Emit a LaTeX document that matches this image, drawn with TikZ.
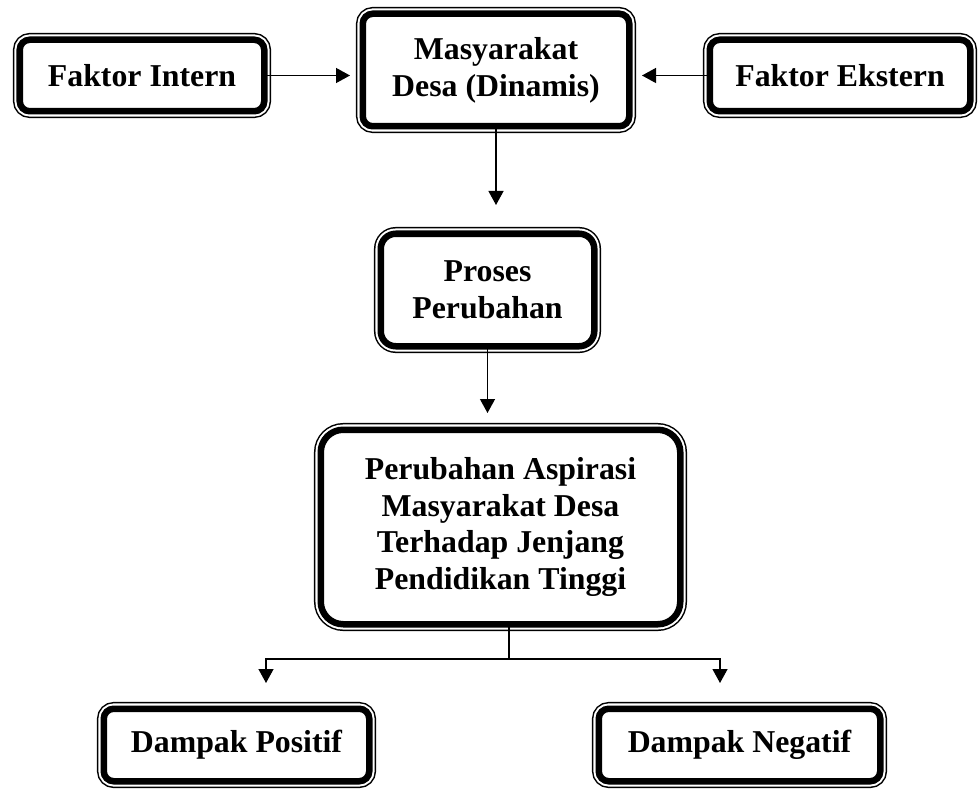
\documentclass[tikz,border=0pt]{standalone}
\usepackage{fontspec}
\setmainfont{Liberation Serif}
\usetikzlibrary{positioning,arrows.meta,calc}

\tikzset{
  box/.style={draw, line width=3.7pt, fill=white, rounded corners=#1,
    inner sep=0pt, outer sep=0pt, align=center,
    font=\fontsize{18.1}{21}\selectfont\bfseries,
    preaction={draw, line width=7.7pt},
    preaction={draw=white, line width=6pt}},
  box/.default=0.2cm,
  arr/.style={line width=0.75pt, -{Triangle[length=0.28cm,width=0.3cm]}},
}

\begin{document}
\begin{tikzpicture}

\useasboundingbox (0,0) rectangle (19.58,15.78);

% Top row: the two factors and the village community
\node[box, minimum width=4.89cm, minimum height=1.43cm] (Intern) at (2.84,14.27) {Faktor Intern};
\node[box, minimum width=5.33cm, minimum height=2.25cm] (Desa) at (9.92,14.38) {Masyarakat\\Desa (Dinamis)};
\node[box, minimum width=5.21cm, minimum height=1.43cm] (Ekstern) at (16.80,14.27) {Faktor Ekstern};

% Process of change
\node[box=0.3cm, minimum width=4.27cm, minimum height=2.25cm] (Proses) at (9.75,9.98) {Proses\\Perubahan};

% Change of aspiration
\node[box=0.45cm, minimum width=7.19cm, minimum height=3.89cm] (Aspirasi) at (10.01,5.24)
  {Perubahan Aspirasi\\Masyarakat Desa\\Terhadap Jenjang\\Pendidikan Tinggi};

% Impacts
\node[box, minimum width=5.31cm, minimum height=1.45cm] (Positif) at (4.73,0.88) {Dampak Positif};
\node[box, minimum width=5.63cm, minimum height=1.45cm] (Negatif) at (14.79,0.88) {Dampak Negatif};

% Arrows into the community
\draw[arr, shorten >=0.255cm] (Intern.east) -- (Intern.east -| Desa.west);
\draw[arr, shorten >=0.255cm] (Ekstern.west) -- (Ekstern.west -| Desa.east);

% Arrows down the middle
\draw[arr, shorten >=0.575cm] (Desa.south) -- (Desa.south |- Proses.north);
\draw[arr, shorten >=0.335cm] (Proses.south) -- (Proses.south |- Aspirasi.north);

% Split to the two impacts
\draw[line width=0.75pt] ([xshift=0.17cm]Aspirasi.south) -- ++(0,-0.695) coordinate (split);
\draw[arr, shorten >=0.515cm] (split) -| ([xshift=0.59cm]Positif.north);
\draw[arr, shorten >=0.515cm] (split) -| ([xshift=-0.39cm]Negatif.north);

\end{tikzpicture}
\end{document}
